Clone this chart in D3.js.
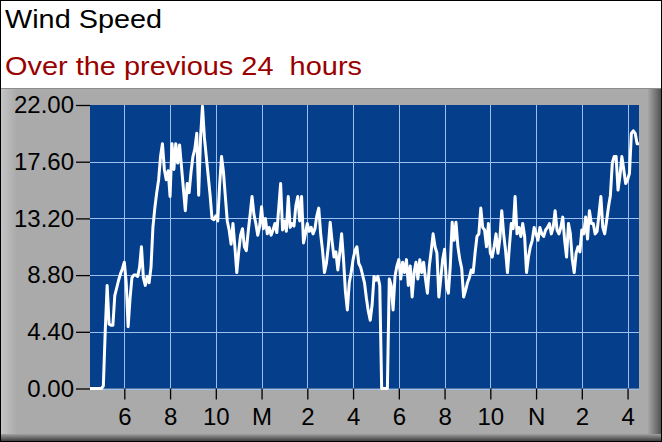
<!DOCTYPE html>
<html>
<head>
<meta charset="utf-8">
<script src="https://cdn.jsdelivr.net/npm/d3@7"></script>
<style>
  body { margin: 0; background: #fff; }
  text { font-family: Arial, "Liberation Sans", sans-serif; }
</style>
</head>
<body>
<svg id="chart" width="662" height="442"></svg>
<script>
// chart values
var titleText = "Wind Speed";
var subtitleText = "Over the previous 24  hours";
var startTime = new Date(2020, 0, 1, 16, 30);
var endTime = new Date(2020, 0, 2, 16, 30);
var stepMinutes = 5;
var yTicks = [0, 4.4, 8.8, 13.2, 17.6, 22];
var xTickLabels = ["6", "8", "10", "M", "2", "4", "6", "8", "10", "N", "2", "4"];
// one row per hour, 5 minute readings
var windSpeed = [
  0, 0, 0, 0, 0, 0, 0, 0.2, 4.5, 8.0, 5.0, 4.9,
  4.9, 7.2, 7.8, 8.4, 8.9, 9.3, 9.8, 8.2, 4.8, 7.0, 8.6, 8.8,
  8.8, 8.7, 9.4, 11.0, 8.6, 8.0, 8.7, 8.2, 9.4, 12.5, 14.0, 15.2,
  16.2, 18.0, 19.0, 17.0, 16.2, 16.9, 14.9, 19.0, 17.0, 19.0, 17.5, 18.9,
  17.2, 15.5, 13.8, 15.9, 15.2, 16.8, 18.0, 18.6, 19.8, 15.0, 19.5, 21.9,
  19.5, 18.0, 16.5, 15.0, 13.2, 13.1, 13.4, 13.0, 15.8, 18.0, 16.8, 14.9,
  13.0, 12.3, 11.2, 12.8, 11.0, 9.0, 10.6, 11.9, 12.4, 11.0, 10.7, 12.2,
  13.5, 14.9, 13.5, 12.8, 11.9, 12.6, 14.1, 12.4, 13.2, 12.0, 12.5, 11.9,
  12.3, 12.8, 12.1, 14.0, 15.9, 12.3, 13.0, 12.2, 14.9, 12.5, 12.8, 12.6,
  14.2, 14.9, 13.0, 14.9, 11.3, 12.0, 12.8, 12.2, 12.5, 12.0, 12.4, 13.4,
  14.0, 12.0, 10.7, 9.0, 9.7, 11.0, 12.9, 11.4, 10.2, 10.6, 9.2, 10.5,
  12.0, 10.0, 7.5, 6.1, 8.2, 9.0, 10.0, 10.7, 11.0, 9.7, 9.4, 8.8,
  8.2, 7.0, 6.0, 5.3, 6.5, 8.7, 8.4, 8.7, 8.0, 0, 0, 0,
  0, 8.5, 8.0, 6.1, 8.7, 9.5, 10.0, 8.5, 9.8, 9.0, 10.0, 8.0,
  9.5, 7.1, 9.0, 9.8, 8.5, 10.0, 9.0, 9.8, 8.5, 7.4, 9.5, 10.7,
  12.0, 11.0, 10.5, 7.1, 8.5, 10.0, 10.8, 8.0, 7.4, 9.5, 12.9, 11.5,
  12.9, 11.0, 10.0, 9.3, 7.1, 7.6, 8.2, 8.6, 9.2, 9.0, 10.5, 11.8,
  12.0, 14.0, 12.5, 12.3, 11.0, 12.8, 10.5, 10.2, 11.0, 12.0, 10.5, 11.6,
  13.8, 12.0, 10.7, 9.0, 11.0, 12.8, 12.4, 14.9, 12.0, 12.5, 11.8, 12.8,
  11.8, 9.0, 10.2, 11.0, 11.5, 12.5, 12.0, 11.5, 12.5, 12.0, 11.8, 12.3,
  12.5, 12.8, 12.0, 12.5, 13.8, 12.3, 12.0, 12.5, 13.3, 11.5, 10.2, 12.8,
  12.0, 10.0, 9.0, 10.5, 11.0, 10.6, 12.3, 12.0, 13.3, 11.6, 13.8, 12.8,
  12.8, 12.0, 12.2, 13.5, 14.9, 12.5, 12.0, 13.0, 14.1, 15.0, 17.5, 18.0,
  18.0, 15.4, 16.5, 18.0, 17.0, 15.9, 16.2, 16.7, 19.8, 20.0, 19.8, 19.0,
  19.0
];

var svg = d3.select("#chart");
var W = 662, H = 442;
var plot = {left: 90, right: 639, top: 105, bottom: 388.5};

var defs = svg.append("defs");
var gl = defs.append("linearGradient").attr("id", "leftEdge").attr("x1", 0).attr("x2", 1);
gl.append("stop").attr("offset", 0).attr("stop-color", "#c4c4c4");
gl.append("stop").attr("offset", 1).attr("stop-color", "#aaaaaa");
var gr = defs.append("linearGradient").attr("id", "rightEdge").attr("x1", 0).attr("x2", 1);
gr.append("stop").attr("offset", 0).attr("stop-color", "#a6a6a6");
gr.append("stop").attr("offset", 1).attr("stop-color", "#4c4c4c");
var gb = defs.append("linearGradient").attr("id", "bottomEdge").attr("x1", 0).attr("x2", 0).attr("y1", 0).attr("y2", 1);
gb.append("stop").attr("offset", 0).attr("stop-color", "#a0a0a0");
gb.append("stop").attr("offset", 1).attr("stop-color", "#303030");
defs.append("clipPath").attr("id", "plotClip").append("rect")
  .attr("x", plot.left).attr("y", plot.top - 2)
  .attr("width", plot.right - plot.left).attr("height", plot.bottom - plot.top + 4);

// header
svg.append("rect").attr("width", W).attr("height", H).attr("fill", "#fff");
svg.append("text").attr("x", 5).attr("y", 28)
  .attr("font-size", 25).attr("fill", "#000")
  .attr("textLength", 157).attr("lengthAdjust", "spacingAndGlyphs")
  .text(titleText);
svg.append("text").attr("x", 5).attr("y", 75)
  .attr("font-size", 26).attr("fill", "#990000")
  .attr("xml:space", "preserve").style("white-space", "pre")
  .attr("textLength", 357).attr("lengthAdjust", "spacingAndGlyphs")
  .text(subtitleText);

// grey panel
svg.append("rect").attr("x", 0).attr("y", 88).attr("width", W).attr("height", H - 88).attr("fill", "#aaaaaa");
svg.append("line").attr("x1", 0).attr("x2", W).attr("y1", 88.5).attr("y2", 88.5).attr("stroke", "#8c8c8c");
svg.append("rect").attr("x", 1).attr("y", 89).attr("width", 16).attr("height", H - 89).attr("fill", "url(#leftEdge)");
svg.append("rect").attr("x", 648).attr("y", 89).attr("width", 14).attr("height", H - 89).attr("fill", "url(#rightEdge)");
svg.append("rect").attr("x", 0).attr("y", 434).attr("width", W).attr("height", 8).attr("fill", "url(#bottomEdge)");
svg.append("rect").attr("x", 0.5).attr("y", 0.5).attr("width", W - 1).attr("height", H - 1)
  .attr("fill", "none").attr("stroke", "#000");

var x = d3.scaleTime().domain([startTime, endTime]).range([plot.left, plot.right]);
var y = d3.scaleLinear().domain([0, 22]).range([plot.bottom, plot.top]);
var xTicks = d3.timeHour.every(2).range(startTime, endTime);

svg.append("rect").attr("x", plot.left).attr("y", plot.top)
  .attr("width", plot.right - plot.left).attr("height", plot.bottom - plot.top)
  .attr("fill", "#053f8c");

// grid
var grid = svg.append("g").attr("stroke", "#9ec0ec").attr("stroke-width", 1);
grid.selectAll(".gx").data(xTicks).enter().append("line")
  .attr("x1", function(d) { return Math.round(x(d)) + 0.5; })
  .attr("x2", function(d) { return Math.round(x(d)) + 0.5; })
  .attr("y1", plot.top).attr("y2", plot.bottom);
grid.selectAll(".gy").data(yTicks.filter(function(d) { return d < 22; })).enter().append("line")
  .attr("x1", plot.left).attr("x2", plot.right)
  .attr("y1", function(d) { return Math.round(y(d)) + 0.5; })
  .attr("y2", function(d) { return Math.round(y(d)) + 0.5; });

// line
var line = d3.line()
  .x(function(d, i) { return x(d3.timeMinute.offset(startTime, i * stepMinutes)); })
  .y(function(d) { return y(d); });
svg.append("path").datum(windSpeed)
  .attr("clip-path", "url(#plotClip)")
  .attr("d", line)
  .attr("fill", "none").attr("stroke", "#fff")
  .attr("stroke-width", 3).attr("stroke-linejoin", "round");

// axes
var yAxis = svg.append("g").attr("transform", "translate(" + plot.left + ",0)")
  .call(d3.axisLeft(y).tickValues(yTicks).tickFormat(d3.format(".2f")).tickSize(14).tickPadding(2));
var xAxis = svg.append("g").attr("transform", "translate(0," + plot.bottom + ")")
  .call(d3.axisBottom(x).tickValues(xTicks)
    .tickFormat(function(d, i) { return xTickLabels[i]; })
    .tickSize(11).tickPadding(8));
[yAxis, xAxis].forEach(function(a) {
  a.select(".domain").remove();
  a.selectAll(".tick line").attr("stroke", "#000").attr("stroke-width", 1.3);
  a.selectAll(".tick text").attr("fill", "#000").attr("font-size", 24)
    .attr("font-family", "Arial, 'Liberation Sans', sans-serif");
});
</script>
</body>
</html>
